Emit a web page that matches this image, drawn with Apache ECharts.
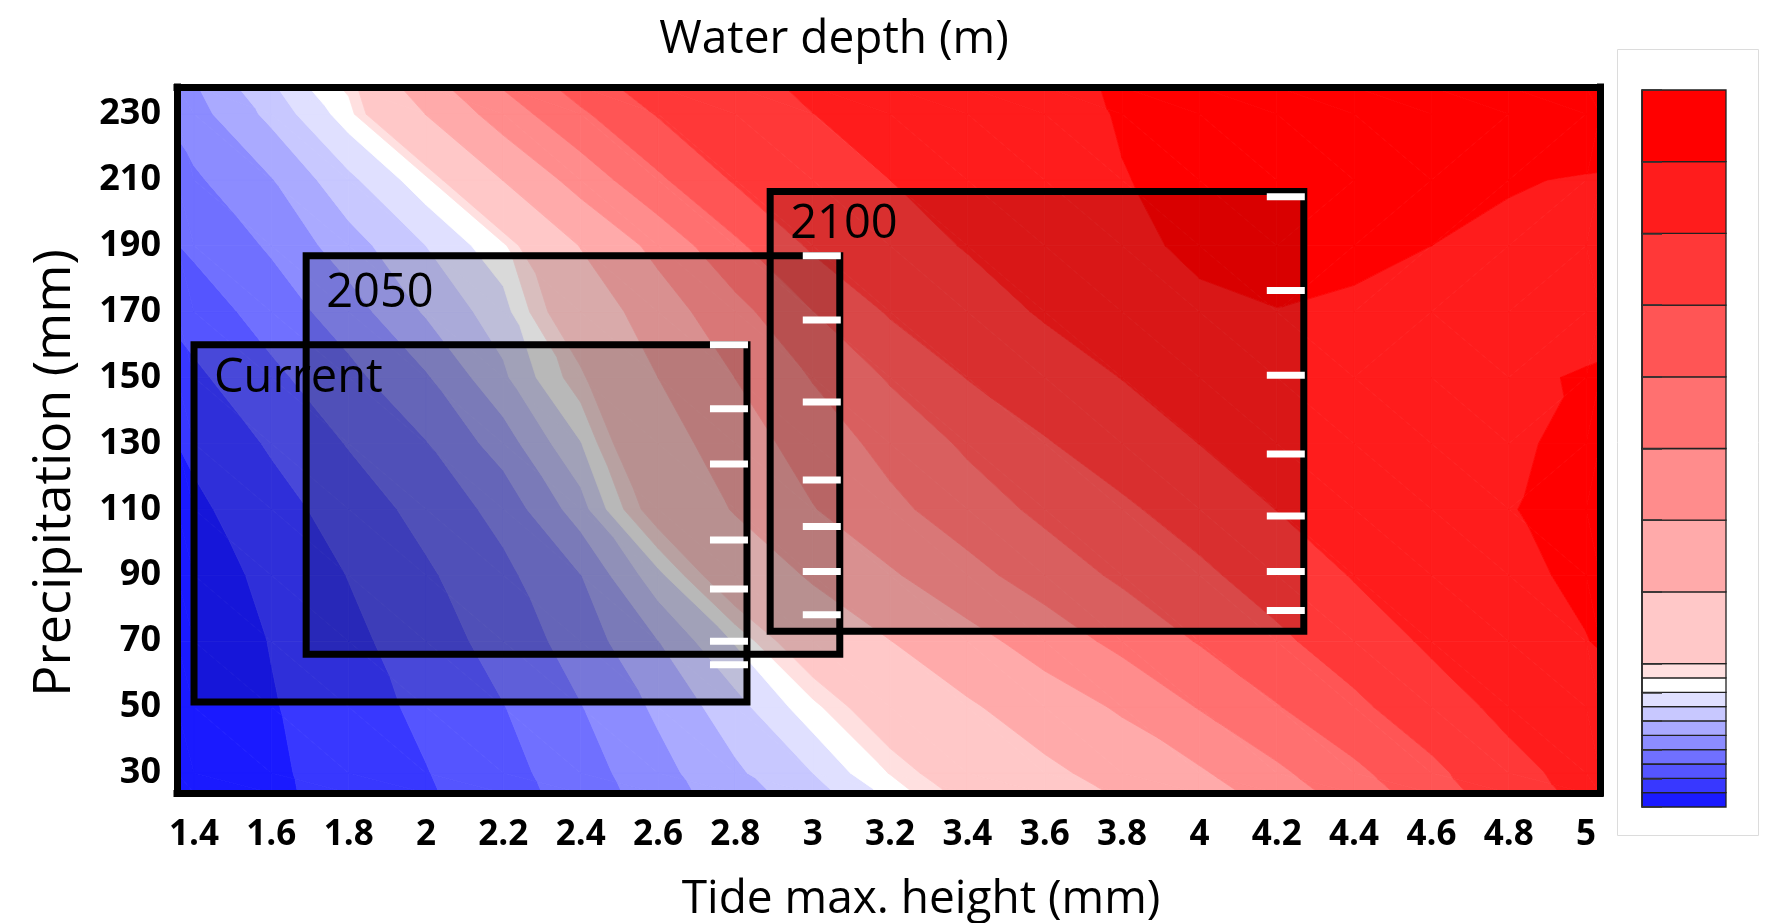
<!DOCTYPE html>
<html>
<head>
<meta charset="utf-8">
<script src="https://cdn.jsdelivr.net/npm/echarts@6/dist/echarts.min.js"></script>
<style>
html,body{margin:0;padding:0;background:#fff;}
#main{width:1767px;height:923px;}
</style>
</head>
<body>
<div id="main"></div>
<script>
// ---------------- data ----------------
const tideHeights = [1.4,1.6,1.8,2,2.2,2.4,2.6,2.8,3,3.2,3.4,3.6,3.8,4,4.2,4.4,4.6,4.8,5];
const precipitation = [30,50,70,90,110,130,150,170,190,210,230];

// water depth (m) at each tide height, one array per precipitation row
const depthP30  = [0.028,0.084,0.141,0.196,0.267,0.355,0.466,0.582,0.700,0.906,1.150,1.405,1.667,1.934,2.399,2.888,3.383,3.870,4.150];
const depthP50  = [0.031,0.093,0.156,0.222,0.297,0.396,0.518,0.659,0.863,1.158,1.441,1.740,2.061,2.528,2.972,3.396,3.808,4.110,4.300];
const depthP70  = [0.034,0.104,0.175,0.252,0.338,0.445,0.598,0.810,1.165,1.492,1.826,2.216,2.639,3.033,3.405,3.764,4.070,4.280,4.490];
const depthP90  = [0.050,0.125,0.203,0.285,0.376,0.498,0.764,1.170,1.555,1.940,2.342,2.731,3.087,3.405,3.727,4.028,4.226,4.426,4.560];
const depthP110 = [0.080,0.160,0.245,0.333,0.433,0.652,1.097,1.534,1.977,2.380,2.757,3.110,3.423,3.716,4.007,4.163,4.320,4.480,4.650];
const depthP130 = [0.120,0.212,0.306,0.395,0.547,0.794,1.280,1.750,2.220,2.660,3.080,3.465,3.743,4.005,4.150,4.280,4.380,4.450,4.580];
const depthP150 = [0.180,0.277,0.371,0.488,0.679,0.964,1.500,2.005,2.527,3.050,3.516,3.770,4.010,4.180,4.320,4.390,4.420,4.460,4.520];
const depthP170 = [0.245,0.344,0.451,0.612,0.756,1.180,1.750,2.330,2.990,3.557,3.787,4.050,4.300,4.460,4.495,4.460,4.400,4.360,4.400];
const depthP190 = [0.318,0.413,0.555,0.700,0.870,1.516,2.140,2.904,3.580,3.800,4.030,4.250,4.450,4.540,4.570,4.560,4.500,4.420,4.350];
const depthP210 = [0.384,0.494,0.674,0.861,1.510,2.190,2.915,3.556,3.785,4.000,4.160,4.320,4.490,4.570,4.600,4.590,4.570,4.530,4.470];
const depthP230 = [0.459,0.628,0.852,1.510,2.235,2.920,3.536,3.765,3.997,4.130,4.257,4.390,4.520,4.600,4.660,4.700,4.740,4.770,4.800];

// contour levels (m) and band colours
const depthLevels = [0,0.1,0.2,0.3,0.4,0.5,0.6,0.7,0.8,0.9,1.0,1.5,2.0,2.5,3.0,3.5,4.0,4.5,5.0];
const bandColors = ['#1a1aff','#3838ff','#5555ff','#7070ff','#8c8cff','#aaaaff','#c8c8ff','#e0e0ff','#ffffff','#ffe0e0',
                    '#ffc8c8','#ffaaaa','#ff8c8c','#ff7070','#ff5555','#ff3838','#ff1c1c','#ff0000'];
const colorbarTicks = [0,0.2,0.4,0.6,0.8,1,1.5,2,2.5,3,3.5,4,4.5,5];

// scenario boxes
const scenarioNames = ['Current','2050','2100'];
const scenarioTideMin = [1.40, 1.69, 2.89];
const scenarioTideMax = [2.83, 3.07, 4.27];
const scenarioPrecipMin = [51.5, 66.0, 73.0];
const scenarioPrecipMax = [160.0, 187.0, 206.5];
const ticksCurrent = [160.0, 140.5, 123.8, 100.7, 85.8, 70.0, 62.8];
const ticks2050 = [187.0, 167.5, 142.6, 118.9, 104.8, 91.1, 78.0];
const ticks2100 = [204.9, 176.4, 150.7, 126.8, 108.0, 91.1, 79.3];

// ---------------- layout / style ----------------
const tideAxisMin = 1.356, tideAxisMax = 5.036;
const precipAxisMin = 23.9, precipAxisMax = 238.2;
const FONT = '"Open Sans", "Noto Sans", sans-serif';
const boxLabelDy = [34, 38, 33];

const depthGrid = [depthP30,depthP50,depthP70,depthP90,depthP110,depthP130,depthP150,depthP170,depthP190,depthP210,depthP230];

// extend grid to the frame edges (linear continuation of the edge cells, rendering only)
function extendCoords(nodes, lo, hi){ return [lo].concat(nodes, [hi]); }
function extendRow(row, xs, lo, hi){
  const n = row.length;
  const left = row[0] + (row[0]-row[1])*(xs[0]-lo)/(xs[1]-xs[0]);
  const right = row[n-1] + (row[n-1]-row[n-2])*(hi-xs[n-1])/(xs[n-1]-xs[n-2]);
  return [left].concat(row, [right]);
}
const tExt = extendCoords(tideHeights, tideAxisMin, tideAxisMax);
const pExt = extendCoords(precipitation, precipAxisMin, precipAxisMax);
const rowsX = depthGrid.map(r => extendRow(r, tideHeights, tideAxisMin, tideAxisMax));
const gridExt = [];
for (let i = 0; i < tExt.length; i++) {
  const col = rowsX.map(r => r[i]);
  const ext = extendRow(col, precipitation, precipAxisMin, precipAxisMax);
  ext.forEach((v, j) => { (gridExt[j] = gridExt[j] || [])[i] = v; });
}
const cells = [];
for (let j = 0; j < pExt.length-1; j++) {
  for (let i = 0; i < tExt.length-1; i++) {
    cells.push([tExt[i], pExt[j], tExt[i+1], pExt[j+1],
      gridExt[j][i], gridExt[j][i+1], gridExt[j+1][i], gridExt[j+1][i+1]]);
  }
}

function clipByLevel(poly, level, sign){
  const out = [];
  for (let i = 0; i < poly.length; i++) {
    const P = poly[i], Q = poly[(i+1)%poly.length];
    const dp = sign*(P.v-level), dq = sign*(Q.v-level);
    if (dp >= 0) out.push(P);
    if ((dp >= 0) !== (dq >= 0)) {
      const s = dp/(dp-dq);
      out.push({x:P.x+s*(Q.x-P.x), y:P.y+s*(Q.y-P.y), v:P.v+s*(Q.v-P.v)});
    }
  }
  return out;
}

function renderContourCell(params, api){
  const t0 = api.value(0), p0 = api.value(1), t1 = api.value(2), p1 = api.value(3);
  const c00 = api.coord([t0,p0]), c10 = api.coord([t1,p0]), c01 = api.coord([t0,p1]), c11 = api.coord([t1,p1]);
  const A = {x:c00[0], y:c00[1], v:api.value(4)};
  const B = {x:c10[0], y:c10[1], v:api.value(5)};
  const C = {x:c01[0], y:c01[1], v:api.value(6)};
  const D = {x:c11[0], y:c11[1], v:api.value(7)};
  const tris = Math.abs(A.v-D.v) < Math.abs(B.v-C.v) ? [[A,B,D],[A,D,C]] : [[A,B,C],[B,D,C]];
  const children = [];
  const nb = bandColors.length;
  tris.forEach(tri => {
    const vmin = Math.min(tri[0].v,tri[1].v,tri[2].v), vmax = Math.max(tri[0].v,tri[1].v,tri[2].v);
    for (let b = 0; b < nb; b++) {
      const lo = b === 0 ? -1e9 : depthLevels[b];
      const hi = b === nb-1 ? 1e9 : depthLevels[b+1];
      if (vmax < lo || vmin > hi) continue;
      let poly = clipByLevel(tri, lo, 1);
      if (poly.length < 3) continue;
      poly = clipByLevel(poly, hi, -1);
      if (poly.length < 3) continue;
      children.push({type:'polygon', shape:{points: poly.map(p => [p.x,p.y])},
        style:{fill: bandColors[b], stroke: bandColors[b], lineWidth: 0.8}});
    }
  });
  return {type:'group', children};
}

const boxData = scenarioNames.map((n,i) => ({name:n, value:[scenarioTideMin[i], scenarioTideMax[i], scenarioPrecipMin[i], scenarioPrecipMax[i]]}));
function renderBox(params, api){
  const tl = api.coord([api.value(0), api.value(3)]);
  const br = api.coord([api.value(1), api.value(2)]);
  return {type:'group', children:[
    {type:'rect', shape:{x:tl[0], y:tl[1], width:br[0]-tl[0], height:br[1]-tl[1]},
     style:{fill:'rgba(0,0,0,0.15)', stroke:'#000', lineWidth:7}},
    {type:'text', x: tl[0]+20, y: tl[1]+boxLabelDy[params.dataIndex],
     style:{text: scenarioNames[params.dataIndex], font:'47px ' + FONT, fill:'#000', align:'left', verticalAlign:'middle'}}
  ]};
}

const tickData = [];
[ticksCurrent, ticks2050, ticks2100].forEach((arr, i) => arr.forEach(p => tickData.push([scenarioTideMax[i], p])));
function renderTick(params, api){
  const c = api.coord([api.value(0), api.value(1)]);
  return {type:'rect', shape:{x:c[0]-37, y:c[1]-3.5, width:38, height:7}, style:{fill:'#fff'}};
}

const colorbarData = bandColors.map((c,i) => [depthLevels[i], depthLevels[i+1], i]);
function renderBand(params, api){
  const a = api.coord([0, api.value(0)]);
  const b = api.coord([1, api.value(1)]);
  return {type:'rect', shape:{x:a[0], y:b[1], width:b[0]-a[0], height:a[1]-b[1]},
    style:{fill: bandColors[api.value(2)], stroke:'#222', lineWidth:1.3}};
}

const frameLine = {show:true, lineStyle:{color:'#000', width:7, cap:'square'}};
const option = {
  animation:false,
  backgroundColor:'#fff',
  title:{text:'Water depth (m)', left:834, top:17, textAlign:'center', padding:0,
    textStyle:{fontFamily:FONT, fontSize:46, fontWeight:'normal', color:'#000'}},
  graphic:[{type:'rect', left:1615, top:47, shape:{width:141, height:786},
    style:{fill:'none', stroke:'#dcdcdc', lineWidth:1}, z:-1}],
  grid:[
    {left:177, top:87, width:1423, height:706, containLabel:false, outerBoundsMode:'none'},
    {left:1642, top:90, width:84, height:717, containLabel:false, outerBoundsMode:'none'}
  ],
  xAxis:[
    {gridIndex:0, type:'value', min:tideAxisMin, max:tideAxisMax, position:'bottom', z:5,
     axisLine:frameLine, axisTick:{show:false}, splitLine:{show:false},
     axisLabel:{customValues:tideHeights, fontFamily:FONT, fontSize:35, fontWeight:'bold', color:'#000', margin:25},
     name:'Tide max. height (mm)', nameLocation:'middle', nameGap:84,
     nameTextStyle:{fontFamily:FONT, fontSize:46, color:'#000', padding:[0,0,0,65]}},
    {gridIndex:0, type:'value', min:tideAxisMin, max:tideAxisMax, position:'top', z:5,
     axisLine:frameLine, axisTick:{show:false}, axisLabel:{show:false}, splitLine:{show:false}},
    {gridIndex:1, type:'value', min:0, max:1, show:false}
  ],
  yAxis:[
    {gridIndex:0, type:'value', min:precipAxisMin, max:precipAxisMax, position:'left', z:5,
     axisLine:frameLine, axisTick:{show:false}, splitLine:{show:false},
     axisLabel:{customValues:precipitation, fontFamily:FONT, fontSize:36, fontWeight:'bold', color:'#000', margin:16},
     name:'Precipitation (mm)', nameLocation:'middle', nameGap:96,
     nameTextStyle:{fontFamily:FONT, fontSize:52, color:'#000', padding:[0,66,0,0]}},
    {gridIndex:0, type:'value', min:precipAxisMin, max:precipAxisMax, position:'right', z:5,
     axisLine:frameLine, axisTick:{show:false}, axisLabel:{show:false}, splitLine:{show:false}},
    {gridIndex:1, type:'value', min:0, max:5, position:'right', z:5,
     axisLine:{show:true, lineStyle:{color:'#222', width:1.5}},
     axisTick:{show:true, customValues:colorbarTicks, length:20, inside:false, lineStyle:{color:'#333', width:1.5}},
     axisLabel:{show:false}, splitLine:{show:false}}
  ],
  series:[
    {type:'custom', name:'Water depth', xAxisIndex:0, yAxisIndex:0, clip:true, silent:true, z:1,
     renderItem:renderContourCell, encode:{x:[0,2], y:[1,3]}, data:cells},
    {type:'custom', name:'Scenarios', xAxisIndex:0, yAxisIndex:0, clip:false, silent:true, z:3,
     renderItem:renderBox, encode:{x:[0,1], y:[2,3]}, data:boxData},
    {type:'custom', name:'Scenario ticks', xAxisIndex:0, yAxisIndex:0, clip:false, silent:true, z:4,
     renderItem:renderTick, encode:{x:0, y:1}, data:tickData},
    {type:'custom', name:'Colour scale', xAxisIndex:2, yAxisIndex:2, clip:false, silent:true, z:2,
     renderItem:renderBand, encode:{y:[0,1]}, data:colorbarData}
  ]
};
const chart = echarts.init(document.getElementById('main'), null, {renderer:'canvas'});
chart.setOption(option);
</script>
</body>
</html>
